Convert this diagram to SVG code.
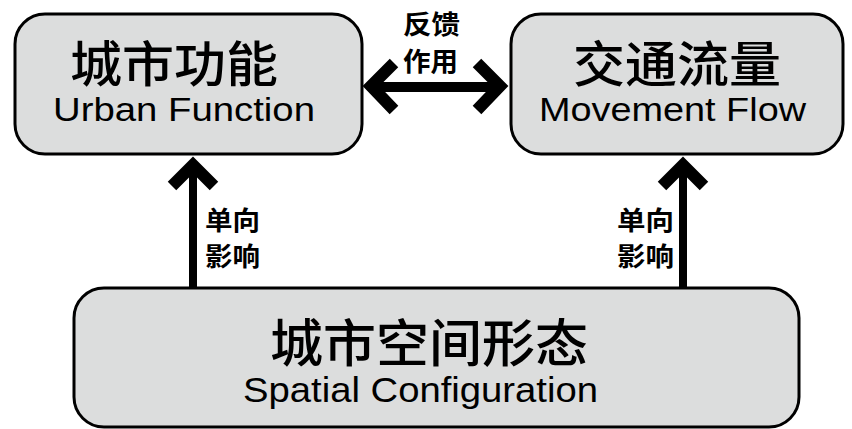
<svg xmlns="http://www.w3.org/2000/svg" width="852" height="429" viewBox="0 0 852 429">
<style>
.box{fill:#dcdddd;stroke:#000;stroke-width:3}
.zh{font-family:"Noto Sans CJK SC","Noto Sans",sans-serif;font-weight:500;fill:#000}
.en{font-family:"Liberation Sans",Arial,sans-serif;fill:#000}
.lbl{font-family:"Noto Sans CJK SC","Noto Sans",sans-serif;font-weight:bold;font-size:26px;fill:#000}
.stem{stroke:#000;fill:none}
.head{stroke:#000;fill:none;stroke-width:12;stroke-linejoin:miter;stroke-miterlimit:4;stroke-linecap:butt}
</style>
<rect width="852" height="429" fill="#fff"/>
<g id="urban-function">
<rect class="box" x="15" y="14" width="347" height="140" rx="30" ry="30"/>
<text class="zh" x="70" y="82" font-size="49" textLength="208" lengthAdjust="spacingAndGlyphs">城市功能</text>
<text class="en" x="53" y="121" font-size="33" textLength="262" lengthAdjust="spacingAndGlyphs">Urban Function</text>
</g>
<g id="movement-flow">
<rect class="box" x="511" y="14" width="332" height="140" rx="30" ry="30"/>
<text class="zh" x="573" y="82" font-size="49" textLength="208" lengthAdjust="spacingAndGlyphs">交通流量</text>
<text class="en" x="539" y="121" font-size="33" textLength="267" lengthAdjust="spacingAndGlyphs">Movement Flow</text>
</g>
<g id="spatial-configuration">
<rect class="box" x="74" y="288" width="725" height="139" rx="30" ry="30"/>
<text class="zh" x="270" y="362" font-size="51" textLength="318" lengthAdjust="spacingAndGlyphs">城市空间形态</text>
<text class="en" x="243" y="402" font-size="35" textLength="355" lengthAdjust="spacingAndGlyphs">Spatial Configuration</text>
</g>
<g id="connectors">
<line class="stem" x1="370" y1="87" x2="500" y2="87" stroke-width="10"/>
<polyline class="head" points="394,63 371,86 394,110"/>
<polyline class="head" points="477,63 500,86 477,110"/>
<line class="stem" x1="193" y1="287" x2="193" y2="165" stroke-width="8"/>
<polyline class="head" points="172,186 193,165 214,186"/>
<line class="stem" x1="683" y1="287" x2="683" y2="165" stroke-width="8"/>
<polyline class="head" points="662,186 683,165 704,186"/>
<text class="lbl" x="403" y="34" textLength="57" lengthAdjust="spacingAndGlyphs">反馈</text>
<text class="lbl" x="403" y="71" textLength="55" lengthAdjust="spacingAndGlyphs">作用</text>
<text class="lbl" x="205" y="230" textLength="55" lengthAdjust="spacingAndGlyphs">单向</text>
<text class="lbl" x="205" y="266" textLength="55" lengthAdjust="spacingAndGlyphs">影响</text>
<text class="lbl" x="617" y="230" textLength="57" lengthAdjust="spacingAndGlyphs">单向</text>
<text class="lbl" x="617" y="266" textLength="57" lengthAdjust="spacingAndGlyphs">影响</text>
</g>
</svg>
